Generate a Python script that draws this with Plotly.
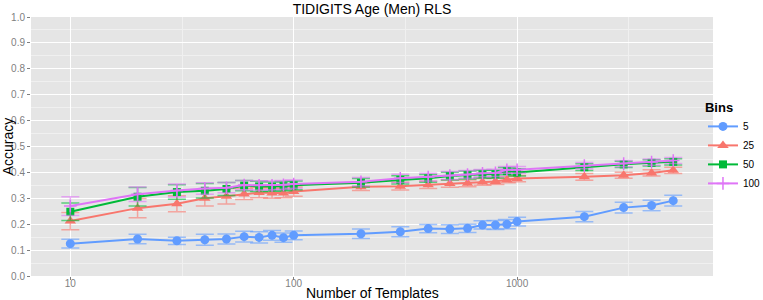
import plotly.graph_objects as go

templates = [10, 20, 30, 40, 50, 60, 70, 80, 90, 100, 200, 300, 400, 500, 600, 700, 800, 900, 1000, 2000, 3000, 4000, 5000]

acc_5 = [0.125, 0.143, 0.136, 0.140, 0.143, 0.152, 0.149, 0.157, 0.148, 0.157, 0.163, 0.171, 0.183, 0.181, 0.184, 0.197, 0.197, 0.200, 0.210, 0.229, 0.264, 0.272, 0.291]
err_5 = [0.017, 0.018, 0.014, 0.021, 0.019, 0.021, 0.022, 0.019, 0.018, 0.017, 0.018, 0.019, 0.016, 0.017, 0.016, 0.016, 0.017, 0.018, 0.017, 0.020, 0.021, 0.020, 0.021]

acc_25 = [0.212, 0.262, 0.279, 0.300, 0.308, 0.317, 0.322, 0.320, 0.320, 0.326, 0.345, 0.347, 0.352, 0.357, 0.358, 0.363, 0.365, 0.372, 0.376, 0.383, 0.389, 0.398, 0.408]
err_25 = [0.033, 0.037, 0.031, 0.030, 0.030, 0.022, 0.020, 0.020, 0.018, 0.018, 0.015, 0.015, 0.014, 0.014, 0.013, 0.013, 0.012, 0.012, 0.012, 0.013, 0.012, 0.012, 0.012]

acc_50 = [0.248, 0.306, 0.324, 0.329, 0.336, 0.349, 0.346, 0.345, 0.347, 0.350, 0.360, 0.371, 0.377, 0.386, 0.390, 0.393, 0.393, 0.405, 0.400, 0.420, 0.431, 0.437, 0.441]
err_50 = [0.034, 0.036, 0.028, 0.028, 0.025, 0.020, 0.020, 0.018, 0.018, 0.017, 0.016, 0.016, 0.015, 0.015, 0.015, 0.015, 0.015, 0.014, 0.014, 0.013, 0.012, 0.012, 0.012]

acc_100 = [0.270, 0.316, 0.330, 0.338, 0.341, 0.351, 0.350, 0.350, 0.352, 0.355, 0.364, 0.377, 0.382, 0.388, 0.392, 0.397, 0.398, 0.410, 0.410, 0.426, 0.434, 0.440, 0.446]
err_100 = [0.036, 0.028, 0.025, 0.022, 0.020, 0.018, 0.018, 0.017, 0.017, 0.016, 0.016, 0.016, 0.015, 0.015, 0.015, 0.014, 0.014, 0.013, 0.013, 0.012, 0.012, 0.012, 0.012]

bins = ["5", "25", "50", "100"]
series = [acc_5, acc_25, acc_50, acc_100]
errors = [err_5, err_25, err_50, err_100]
colors = ["#619CFF", "#F8766D", "#00BA38", "#DF75F7"]
err_colors = ["rgba(97,156,255,0.6)", "rgba(248,118,109,0.6)", "rgba(0,186,56,0.6)", "rgba(223,117,247,0.6)"]
symbols = ["circle", "triangle-up", "square", "cross-thin"]
sizes = [9, 10, 8, 9]

FONT = "Liberation Sans, Arial, sans-serif"

fig = go.Figure()
for name, y, e, c, ec, s, sz in zip(bins, series, errors, colors, err_colors, symbols, sizes):
    fig.add_trace(go.Scatter(
        x=templates, y=y, name=name, mode="lines+markers",
        line=dict(color=c, width=2),
        marker=dict(color=c, symbol=s, size=sz, line=dict(color=c, width=1.5 if s == "cross-thin" else 0)),
        error_y=dict(type="data", array=e, visible=True, color=ec, thickness=1.5, width=9),
    ))

fig.update_layout(
    width=763, height=300,
    margin=dict(l=31, r=50, t=17, b=24, autoexpand=False),
    paper_bgcolor="white", plot_bgcolor="#E5E5E5",
    font=dict(family=FONT, color="#000000"),
    title=dict(text="TIDIGITS Age (Men) RLS", x=(31 + 682 / 2) / 763, xanchor="center",
               y=1 - 9 / 300, yanchor="middle", font=dict(size=14, color="black")),
    xaxis=dict(
        type="log", range=[0.824, 3.877], automargin=False,
        tickmode="array", tickvals=[10, 100, 1000], ticktext=["10", "100", "1000"],
        showgrid=True, gridcolor="white", gridwidth=1.1,
        ticks="outside", ticklen=3, tickcolor="#7F7F7F",
        tickfont=dict(size=10, color="#7F7F7F"), ticklabelstandoff=-5,
        minor=dict(tickmode="array", tickvals=[3.1623, 31.623, 316.23, 3162.3],
                   showgrid=True, gridcolor="#F0F0F0", gridwidth=0.6, ticks=""),
        zeroline=False, showline=False,
    ),
    yaxis=dict(
        range=[0, 1], tickmode="array", automargin=False,
        tickvals=[0, 0.1, 0.2, 0.3, 0.4, 0.5, 0.6, 0.7, 0.8, 0.9, 1.0],
        ticktext=["0.0", "0.1", "0.2", "0.3", "0.4", "0.5", "0.6", "0.7", "0.8", "0.9", "1.0"],
        showgrid=True, gridcolor="white", gridwidth=1.1,
        ticks="outside", ticklen=3, tickcolor="#7F7F7F",
        tickfont=dict(size=10, color="#7F7F7F"),
        minor=dict(dtick=0.05, showgrid=True, gridcolor="#F0F0F0", gridwidth=0.6, ticks=""),
        zeroline=False, showline=False,
        title=dict(text="Accuracy", font=dict(size=14, color="black"), standoff=2),
    ),
    legend=dict(
        x=0.9853, xanchor="left", y=0.5, yanchor="middle",
        title=dict(text="<b>Bins</b>", font=dict(size=13)),
        font=dict(size=10), bgcolor="rgba(0,0,0,0)",
        tracegroupgap=0, itemwidth=30,
    ),
    annotations=[dict(
        text="Number of Templates", xref="paper", yref="paper", x=0.5, y=0,
        xanchor="center", yanchor="middle", yshift=-17, showarrow=False,
        font=dict(size=14, color="black"),
    )],
)

fig.write_html("out.html", config={"displayModeBar": False},
               post_script="document.body.style.margin='0px';")
